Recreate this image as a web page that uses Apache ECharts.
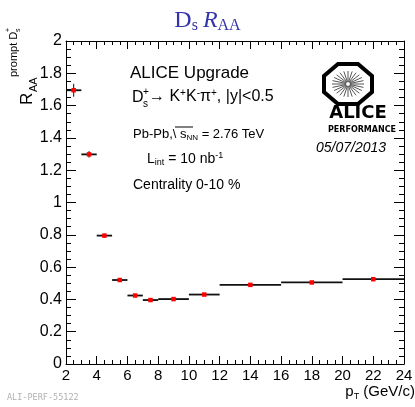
<!DOCTYPE html>
<html>
<head>
<meta charset="utf-8">
<script src="https://cdn.jsdelivr.net/npm/echarts@6/dist/echarts.min.js"></script>
<style>
  html, body { margin: 0; padding: 0; background: #fff; }
  #output { width: 415px; height: 407px; }
</style>
</head>
<body>
<div id="output"></div>
<script>
// pT bins (GeV/c) and the measured R_AA of prompt Ds+
const binLow = [2, 3, 4, 5, 6, 7, 8, 10, 12, 16, 20]
const binHigh = [3, 4, 5, 6, 7, 8, 10, 12, 16, 20, 24]
const raaValues = [1.695, 1.298, 0.795, 0.52, 0.424, 0.396, 0.402, 0.43, 0.49, 0.505, 0.525]
const raaErrors = [0.04, 0.02, 0.012, 0.006, 0.005, 0.005, 0.004, 0.004, 0.004, 0.004, 0.004]

const xRange = [2, 24]
const yRange = [0, 2]

const chart = echarts.init(document.getElementById('output'))

const SANS = '"Liberation Sans", Arial, sans-serif'
const SERIF = '"Liberation Serif", serif'
const TITLE_BLUE = '#3434aa'

const binRows = binLow.map((lo, i) => [lo, binHigh[i], raaValues[i], raaErrors[i]])
const points = binLow.map((lo, i) => [(lo + binHigh[i]) / 2, raaValues[i]])

function renderBin (params, api) {
  const y = api.value(2)
  const err = api.value(3)
  const mid = (api.value(0) + api.value(1)) / 2
  const a = api.coord([api.value(0), y])
  const b = api.coord([api.value(1), y])
  const up = api.coord([mid, y + err])
  const dn = api.coord([mid, y - err])
  return {
    type: 'group',
    children: [
      { type: 'line', shape: { x1: a[0], y1: a[1], x2: b[0], y2: b[1] }, style: { stroke: '#111', lineWidth: 1.8 } },
      { type: 'line', shape: { x1: up[0], y1: up[1], x2: dn[0], y2: dn[1] }, style: { stroke: '#111', lineWidth: 1 } }
    ]
  }
}

function xAxisDef (pos, labels) {
  return {
    type: 'value',
    position: pos,
    min: xRange[0],
    max: xRange[1],
    interval: 2,
    axisLine: { onZero: false, lineStyle: { color: '#000', width: 1 } },
    axisTick: { inside: true, length: 8, lineStyle: { color: '#000' } },
    minorTick: { show: true, splitNumber: 4, length: 4, lineStyle: { color: '#000' } },
    splitLine: { show: false },
    axisLabel: { show: labels, color: '#000', fontSize: 15, fontFamily: SANS, margin: 4 }
  }
}

function yAxisDef (pos, labels) {
  return {
    type: 'value',
    position: pos,
    min: yRange[0],
    max: yRange[1],
    interval: 0.2,
    axisLine: { onZero: false, lineStyle: { color: '#000', width: 1 } },
    axisTick: { inside: true, length: 10, lineStyle: { color: '#000' } },
    minorTick: { show: true, splitNumber: 4, length: 5, lineStyle: { color: '#000' } },
    splitLine: { show: false },
    axisLabel: { show: labels, color: '#000', fontSize: 16, fontFamily: SANS, margin: 4 }
  }
}

const xMain = xAxisDef('bottom', true)
xMain.name = '{b|p}{s|T}{b| (GeV/c)}'
xMain.nameLocation = 'end'
xMain.nameGap = 11
xMain.nameMoveOverlap = false
xMain.nameTextStyle = {
  align: 'right',
  verticalAlign: 'top',
  padding: [19, 0, 0, 0],
  rich: {
    b: { fontSize: 15, fontFamily: SANS, color: '#000', lineHeight: 18, verticalAlign: 'middle' },
    s: { fontSize: 9, fontFamily: SANS, color: '#000', verticalAlign: 'bottom' }
  }
}

function txt (x, y, text, size, extra) {
  return {
    type: 'text',
    x: x,
    y: y,
    style: Object.assign({
      text: text,
      fontSize: size,
      fontFamily: SANS,
      fill: '#000',
      align: 'left',
      verticalAlign: 'middle'
    }, extra || {})
  }
}

function supSubRich (size, lh) {
  return {
    n: { fontSize: size, fontFamily: SANS, fill: '#000', lineHeight: lh, verticalAlign: 'middle' },
    p: { fontSize: Math.round(size * 0.62), fontFamily: SANS, fill: '#000', verticalAlign: 'top' },
    b: { fontSize: Math.round(size * 0.62), fontFamily: SANS, fill: '#000', verticalAlign: 'bottom' }
  }
}

// ALICE logo
const logoCx = 348
const logoCy = 84
const octagon = [
  [-10, -20], [10, -20], [24, -8], [24, 8], [10, 20], [-10, 20], [-24, 8], [-24, -8]
].map(p => [logoCx + p[0], logoCy + p[1]])
const rays = []
for (let i = 0; i < 24; ++i) {
  const t = i / 24 * Math.PI * 2
  rays.push({
    type: 'line',
    shape: {
      x1: logoCx + Math.cos(t) * 2,
      y1: logoCy + Math.sin(t) * 2,
      x2: logoCx + Math.cos(t) * 16,
      y2: logoCy + Math.sin(t) * 13
    },
    style: { stroke: '#555', lineWidth: 1 }
  })
}

const ROT = Math.PI / 2

const graphics = [
  txt(130, 73, 'ALICE Upgrade', 17),
  txt(132, 98, 'D', 16),
  txt(143, 92, '+', 10),
  txt(143, 104, 's', 10),
  txt(149, 97, '{n|→ K}{p|+}{n|K}{p|-}{n|π}{p|+}{n|, |y|<0.5}', 16, { rich: supSubRich(16, 18) }),
  txt(133, 134, '{n|Pb-Pb,\\ s}{b|NN}{n| = 2.76 TeV}', 13, { rich: supSubRich(13, 15) }),
  { type: 'line', shape: { x1: 175, y1: 127, x2: 193, y2: 127 }, style: { stroke: '#000', lineWidth: 1 } },
  txt(147, 159, '{n|L}{b|int}{n| = 10 nb}{p|-1}', 14, { rich: supSubRich(14, 16) }),
  txt(133, 185, 'Centrality 0-10 %', 14),
  { type: 'polygon', shape: { points: octagon }, style: { fill: '#fff', stroke: '#000', lineWidth: 4 } },
  ...rays,
  txt(358, 113, 'ALICE', 18, { fontFamily: '"DejaVu Sans", sans-serif', fontWeight: 'bold', align: 'center' }),
  txt(362, 130, 'PERFORMANCE', 8, { fontFamily: '"DejaVu Sans", sans-serif', fontWeight: 'bold', align: 'center' }),
  txt(351, 148, '05/07/2013', 14, { fontStyle: 'italic', align: 'center' }),
  txt(7, 398, 'ALI-PERF-55122', 8.5, { fontFamily: '"DejaVu Sans Mono", monospace', fill: '#b0b0b0' }),
  // y axis title, read bottom to top
  Object.assign(txt(27, 105, 'R', 17), { rotation: ROT }),
  Object.assign(txt(34, 92, 'AA', 11), { rotation: ROT }),
  Object.assign(txt(14, 77, 'prompt D', 11), { rotation: ROT }),
  Object.assign(txt(18, 32, 's', 7), { rotation: ROT }),
  Object.assign(txt(8, 32, '+', 7), { rotation: ROT })
]

chart.setOption({
  animation: false,
  backgroundColor: '#fff',
  title: {
    text: '{d|D}{s|s} {r|R}{a|AA}',
    left: 'center',
    top: 3,
    textStyle: {
      fontWeight: 'normal',
      rich: {
        d: { fontSize: 24, fontFamily: SERIF, fontWeight: 'normal', color: TITLE_BLUE, lineHeight: 26, verticalAlign: 'middle' },
        s: { fontSize: 16, fontFamily: SERIF, fontWeight: 'normal', color: TITLE_BLUE, verticalAlign: 'bottom' },
        r: { fontSize: 24, fontFamily: SERIF, fontWeight: 'normal', fontStyle: 'italic', color: TITLE_BLUE, lineHeight: 26, verticalAlign: 'middle' },
        a: { fontSize: 16, fontFamily: SERIF, fontWeight: 'normal', color: TITLE_BLUE, verticalAlign: 'bottom' }
      }
    }
  },
  grid: { left: 66, right: 11, top: 41, bottom: 43, containLabel: false, outerBoundsMode: 'none' },
  xAxis: [xMain, xAxisDef('top', false)],
  yAxis: [yAxisDef('left', true), yAxisDef('right', false)],
  graphic: graphics,
  series: [
    {
      type: 'custom',
      renderItem: renderBin,
      data: binRows,
      encode: { x: [0, 1], y: 2 },
      z: 2
    },
    {
      type: 'scatter',
      data: points,
      symbol: 'rect',
      symbolSize: 4.5,
      itemStyle: { color: '#ff0000', opacity: 1 },
      z: 3
    }
  ]
})
</script>
</body>
</html>
